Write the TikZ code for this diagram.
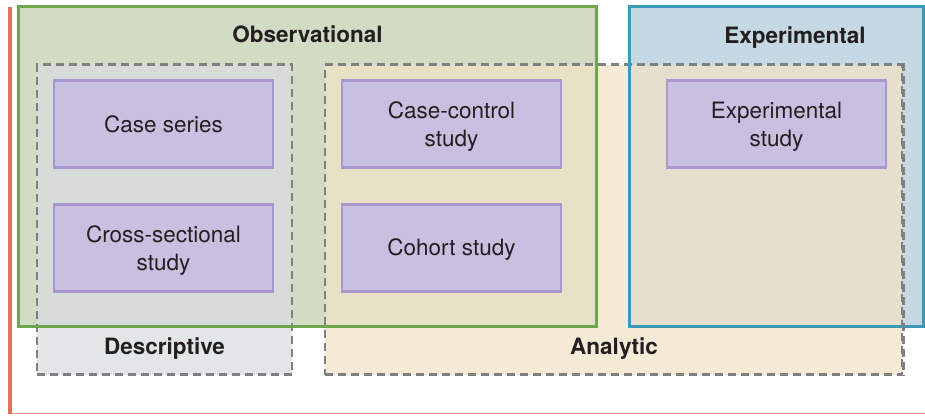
\documentclass[tikz,border=0pt]{standalone}
\usepackage{fontspec}
\setmainfont{TeX Gyre Heros}
\definecolor{obsfill}{HTML}{D2DCC4}
\definecolor{obsline}{HTML}{6EA64E}
\definecolor{expfill}{HTML}{C5D8E3}
\definecolor{expline}{HTML}{3B9AB6}
\definecolor{desfill}{HTML}{D9DDDF}
\definecolor{anafill}{HTML}{F1E3C7}
\definecolor{dashgray}{HTML}{7E8082}
\definecolor{studyfill}{HTML}{C8C0E0}
\definecolor{studyline}{HTML}{A897CF}
\definecolor{axisred}{HTML}{E2705A}
\definecolor{axislight}{HTML}{EE9582}
\definecolor{txt}{HTML}{231F20}
\begin{document}
\begin{tikzpicture}[x=1pt,y=-1pt,
  bigbox/.style={rectangle,inner sep=0pt,line width=3pt},
  groupbox/.style={rectangle,inner sep=0pt,draw=dashgray,line width=2.8pt,
    dash pattern=on 8pt off 5pt,fill opacity=0.75},
  studybox/.style={rectangle,inner sep=0pt,fill=studyfill,draw=studyline,line width=2.4pt,
    minimum width=219pt,minimum height=87pt},
  studytext/.style={align=center,inner sep=0pt,font=\fontsize{22.5}{28}\selectfont,text=txt},
  heading/.style={font=\fontsize{22.5}{27}\selectfont\bfseries,text=txt}]
\useasboundingbox (0,0) rectangle (925,415);
% axes lines
\coordinate (axtop) at (10,7);
\coordinate (axcorner) at (10,413.5);
\coordinate (axend) at (925,413.5);
\draw[axislight,line width=1.8pt] (axcorner) -- (axend);
\draw[axisred,line width=3.4pt] (axtop) -- (axcorner);
% big boxes fills
\node[bigbox,fill=obsfill,minimum width=575pt,minimum height=317pt] (obs) at (307.5,166.5) {};
\node[bigbox,fill=expfill,minimum width=291pt,minimum height=317pt] (exp) at (776.5,166.5) {};
% group boxes
\node[groupbox,fill=desfill,minimum width=255pt,minimum height=310pt] (des) at (164.5,219.5) {};
\node[groupbox,fill=anafill,minimum width=577pt,minimum height=310pt] (ana) at (613.5,219.5) {};
% big box borders on top
\draw[obsline,line width=3pt] (obs.south west) rectangle (obs.north east);
\draw[expline,line width=3pt] (exp.south west) rectangle (exp.north east);
\draw[dashgray,line width=2.8pt,dash pattern=on 8pt off 5pt] (ana.north east) -- (ana.south east);
% headings
\node[heading] (obst) at (307.5,34) {Observational};
\node[heading] (expt) at (795,37.5) {Experimental};
\node[heading] (dest) at (164.5,349) {Descriptive};
\node[heading] (anat) at (614,349) {Analytic};
% studies
\node[studybox,label={[studytext,name=cst]center:{Case series}}] (cs) at (163.5,124) {};
\node[studybox,label={[studytext,name=xst,yshift=-3pt]center:{Cross-sectional\\study}}] (xs) at (163.5,248) {};
\node[studybox,label={[studytext,name=cct,yshift=-3pt]center:{Case-control\\study}}] (cc) at (451.5,124) {};
\node[studybox,label={[studytext,name=cot,yshift=-2pt]center:{Cohort study}}] (co) at (451.5,248) {};
\node[studybox,label={[studytext,name=est,yshift=-3pt]center:{Experimental\\study}}] (es) at (776.5,124) {};
\end{tikzpicture}
\end{document}
